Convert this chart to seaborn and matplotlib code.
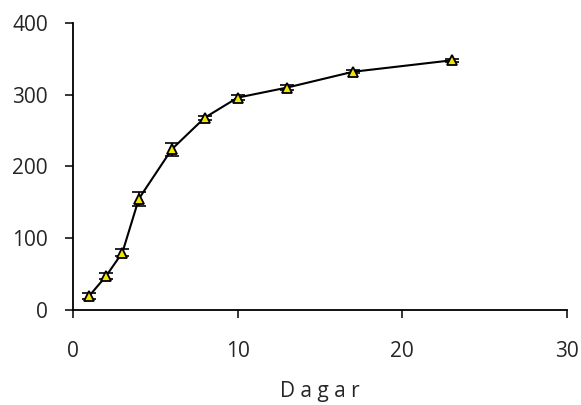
import numpy as np
import pandas as pd
import matplotlib
matplotlib.use("Agg")
import matplotlib.pyplot as plt
import seaborn as sns

# values
dagar = [1, 2, 3, 4, 6, 8, 10, 13, 17, 23]
varde = [20, 47, 80, 155, 224, 268, 296, 310, 332, 348]
fel = [4, 4, 5, 10, 9, 3, 3, 3, 2, 2]

df = pd.DataFrame({"Dagar": dagar, "Varde": varde, "Fel": fel})

sns.set_style("ticks")
plt.rcParams["font.family"] = ["Open Sans", "DejaVu Sans"]

fig = plt.figure(figsize=(5.81, 4.05), dpi=100)
ax = fig.add_axes([0.1256, 0.2346, 0.8504, 0.7086])

ax.errorbar(df["Dagar"], df["Varde"], yerr=df["Fel"], fmt="none",
            ecolor="black", elinewidth=1.2, capsize=5, capthick=1.2, zorder=2)
sns.lineplot(data=df, x="Dagar", y="Varde", ax=ax, color="black", lw=1.5,
             marker="^", markersize=7, markerfacecolor="#f2e600",
             markeredgecolor="black", markeredgewidth=1.3, zorder=3)

ax.set_xlim(0, 30)
ax.set_ylim(0, 400)
ax.set_xticks([0, 10, 20, 30])
ax.set_yticks([0, 100, 200, 300, 400])
ax.tick_params(axis="x", length=6, width=1.3, pad=16, labelsize=15)
ax.tick_params(axis="y", length=6, width=1.3, pad=12, labelsize=15)
for s in ["left", "bottom"]:
    ax.spines[s].set_linewidth(1.3)
    ax.spines[s].set_color("black")
sns.despine(ax=ax)

ax.set_xlabel("D a g a r", fontsize=15, labelpad=14)
ax.set_ylabel("")

fig.savefig("out.png", dpi=100)
